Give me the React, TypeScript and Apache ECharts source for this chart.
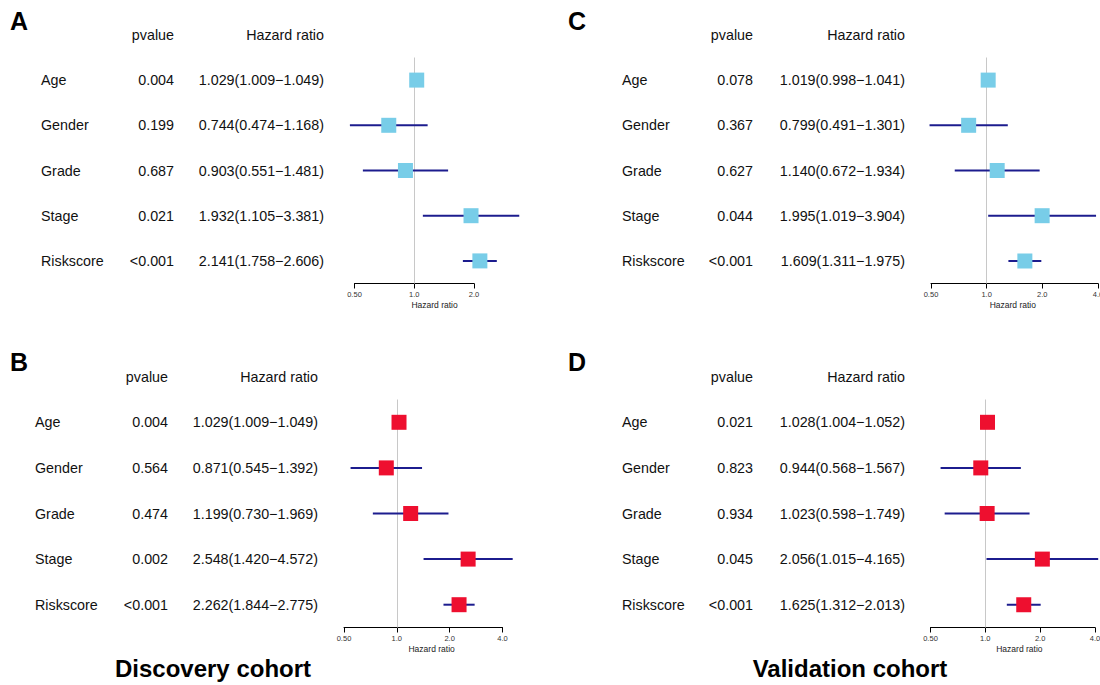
import React, { useEffect, useRef } from 'react';
import * as echarts from 'echarts';

// ---------- data ----------
const variables = ['Age', 'Gender', 'Grade', 'Stage', 'Riskscore'];

// A: Discovery cohort (blue)
const pvalA = ['0.004', '0.199', '0.687', '0.021', '<0.001'];
const hrA = [1.029, 0.744, 0.903, 1.932, 2.141];
const loA = [1.009, 0.474, 0.551, 1.105, 1.758];
const hiA = [1.049, 1.168, 1.481, 3.381, 2.606];

// B: Discovery cohort (red)
const pvalB = ['0.004', '0.564', '0.474', '0.002', '<0.001'];
const hrB = [1.029, 0.871, 1.199, 2.548, 2.262];
const loB = [1.009, 0.545, 0.730, 1.420, 1.844];
const hiB = [1.049, 1.392, 1.969, 4.572, 2.775];

// C: Validation cohort (blue)
const pvalC = ['0.078', '0.367', '0.627', '0.044', '<0.001'];
const hrC = [1.019, 0.799, 1.140, 1.995, 1.609];
const loC = [0.998, 0.491, 0.672, 1.019, 1.311];
const hiC = [1.041, 1.301, 1.934, 3.904, 1.975];

// D: Validation cohort (red)
const pvalD = ['0.021', '0.823', '0.934', '0.045', '<0.001'];
const hrD = [1.028, 0.944, 1.023, 2.056, 1.625];
const loD = [1.004, 0.568, 0.598, 1.015, 1.312];
const hiD = [1.052, 1.567, 1.749, 4.165, 2.013];

const cohortTitles = ['Discovery cohort', 'Validation cohort'];
const headerP = 'pvalue';
const headerHR = 'Hazard ratio';
const axisTitle = 'Hazard ratio';

// ---------- styles ----------
const BLUE = '#78CDE8';
const RED = '#EE0F2F';
const NAVY = '#1C1C8E';
const FONT = 'Arial, "Liberation Sans", Helvetica, sans-serif';
const ROW_FS = 14.3;

const log2 = (v: number) => Math.log(v) / Math.LN2;
const fmtHR = (h: number, l: number, u: number) =>
  `${h.toFixed(3)}(${l.toFixed(3)}\u2212${u.toFixed(3)})`;

const panels = [
  { letter: 'A', pval: pvalA, hr: hrA, lo: loA, hi: hiA, color: BLUE,
    grid: { left: 354.5, top: 57.5, width: 119.5, height: 226 }, xMax: 1,
    cols: { label: 41, p: 174, h: 324 }, letterPos: [10, 21] },
  { letter: 'B', pval: pvalB, hr: hrB, lo: loB, hi: hiB, color: RED,
    grid: { left: 344, top: 399.5, width: 158.5, height: 228 }, xMax: 2,
    cols: { label: 35, p: 168, h: 318 }, letterPos: [10, 362] },
  { letter: 'C', pval: pvalC, hr: hrC, lo: loC, hi: hiC, color: BLUE,
    grid: { left: 931, top: 57.5, width: 167, height: 226 }, xMax: 2,
    cols: { label: 622, p: 753, h: 905 }, letterPos: [568, 21] },
  { letter: 'D', pval: pvalD, hr: hrD, lo: loD, hi: hiD, color: RED,
    grid: { left: 930.5, top: 399.5, width: 164.5, height: 228 }, xMax: 2,
    cols: { label: 622, p: 753, h: 905 }, letterPos: [568, 362] },
];

function buildOption() {
  const grids: any[] = [];
  const xAxes: any[] = [];
  const yAxes: any[] = [];
  const series: any[] = [];
  const graphic: any[] = [];

  panels.forEach((p, i) => {
    grids.push({ ...p.grid, containLabel: false, outerBoundsMode: 'none' });
    xAxes.push({
      type: 'value', gridIndex: i, min: -1, max: p.xMax, interval: 1,
      axisLine: { show: true, lineStyle: { color: '#000', width: 1 } },
      axisTick: { show: true, length: 5, lineStyle: { color: '#000', width: 1 } },
      axisLabel: {
        show: true, fontSize: 7.5, color: '#333', margin: 7, fontFamily: FONT,
        formatter: (v: number) => {
          const r = Math.pow(2, v);
          return r < 1 ? r.toFixed(2) : r.toFixed(1);
        },
      },
      splitLine: { show: false },
    });
    yAxes.push({ type: 'value', gridIndex: i, min: 0.5, max: 5.5, inverse: true, show: false });

    // text columns (row 0 = header) + reference line at HR = 1 (drawn underneath marks)
    series.push({
      type: 'custom', xAxisIndex: i, yAxisIndex: i, clip: false, silent: true, z: 1,
      encode: { y: 0 },
      data: [0, 1, 2, 3, 4, 5].map((r) => [r]),
      renderItem: (params: any, api: any) => {
        const r = api.value(0);
        const y = api.coord([0, r])[1];
        const base = { fontSize: ROW_FS, fontFamily: FONT, fill: '#111', verticalAlign: 'middle' };
        if (r === 0) {
          return {
            type: 'group',
            children: [
              { type: 'text', x: p.cols.p, y, style: { ...base, text: headerP, align: 'right' } },
              { type: 'text', x: p.cols.h, y, style: { ...base, text: headerHR, align: 'right' } },
            ],
          };
        }
        const k = r - 1;
        return {
          type: 'group',
          children: [
            { type: 'text', x: p.cols.label, y, style: { ...base, text: variables[k], align: 'left' } },
            { type: 'text', x: p.cols.p, y, style: { ...base, text: p.pval[k], align: 'right' } },
            { type: 'text', x: p.cols.h, y,
              style: { ...base, text: fmtHR(p.hr[k], p.lo[k], p.hi[k]), align: 'right' } },
          ],
        };
      },
      markLine: {
        silent: true, symbol: 'none', animation: false,
        label: { show: false },
        lineStyle: { color: '#c8c8c8', width: 1, type: 'solid' },
        data: [{ xAxis: 0 }],
      },
    });

    // forest marks
    series.push({
      type: 'custom', xAxisIndex: i, yAxisIndex: i, clip: false, silent: true, z: 5,
      encode: { x: [0, 2, 3], y: 1 },
      data: p.hr.map((h, k) => [log2(h), k + 1, log2(p.lo[k]), log2(p.hi[k])]),
      renderItem: (params: any, api: any) => {
        const row = api.value(1);
        const ph = api.coord([api.value(0), row]);
        const pl = api.coord([api.value(2), row]);
        const pu = api.coord([api.value(3), row]);
        return {
          type: 'group',
          children: [
            { type: 'line', shape: { x1: pl[0], y1: ph[1], x2: pu[0], y2: ph[1] },
              style: { stroke: NAVY, lineWidth: 2 } },
            { type: 'rect', shape: { x: ph[0] - 7.5, y: ph[1] - 7.5, width: 15, height: 15 },
              style: { fill: p.color } },
          ],
        };
      },
    });

    // axis title centered on CI extent
    const center = (log2(Math.min(...p.lo)) + log2(Math.max(...p.hi))) / 2;
    series.push({
      type: 'custom', xAxisIndex: i, yAxisIndex: i, clip: false, silent: true,
      encode: { x: 0, y: 1 },
      data: [[center, 5.5]],
      renderItem: (params: any, api: any) => {
        const c = api.coord([api.value(0), api.value(1)]);
        return {
          type: 'text', x: c[0], y: c[1] + 21,
          style: { text: axisTitle, fontSize: 8.5, fontFamily: FONT, fill: '#222',
            align: 'center', verticalAlign: 'middle' },
        };
      },
    });

    graphic.push({
      type: 'text', x: p.letterPos[0], y: p.letterPos[1],
      style: { text: p.letter, fontSize: 25, fontWeight: 'bold', fontFamily: FONT,
        fill: '#000', align: 'left', verticalAlign: 'middle' },
    });
  });

  graphic.push({
    type: 'text', x: 213, y: 668,
    style: { text: cohortTitles[0], fontSize: 24, fontWeight: 'bold', fontFamily: FONT,
      fill: '#000', align: 'center', verticalAlign: 'middle' },
  });
  graphic.push({
    type: 'text', x: 850, y: 668,
    style: { text: cohortTitles[1], fontSize: 24, fontWeight: 'bold', fontFamily: FONT,
      fill: '#000', align: 'center', verticalAlign: 'middle' },
  });

  return {
    animation: false,
    backgroundColor: '#fff',
    grid: grids,
    xAxis: xAxes,
    yAxis: yAxes,
    series,
    graphic,
  };
}

export default function App() {
  const ref = useRef<HTMLDivElement>(null);
  useEffect(() => {
    if (!ref.current) return;
    const chart = echarts.init(ref.current, undefined, { renderer: 'svg' });
    chart.setOption(buildOption() as any);
    return () => chart.dispose();
  }, []);
  return (
    <div
      ref={ref}
      style={{ position: 'fixed', left: 0, top: 0, width: 1100, height: 685, background: '#fff' }}
    />
  );
}
